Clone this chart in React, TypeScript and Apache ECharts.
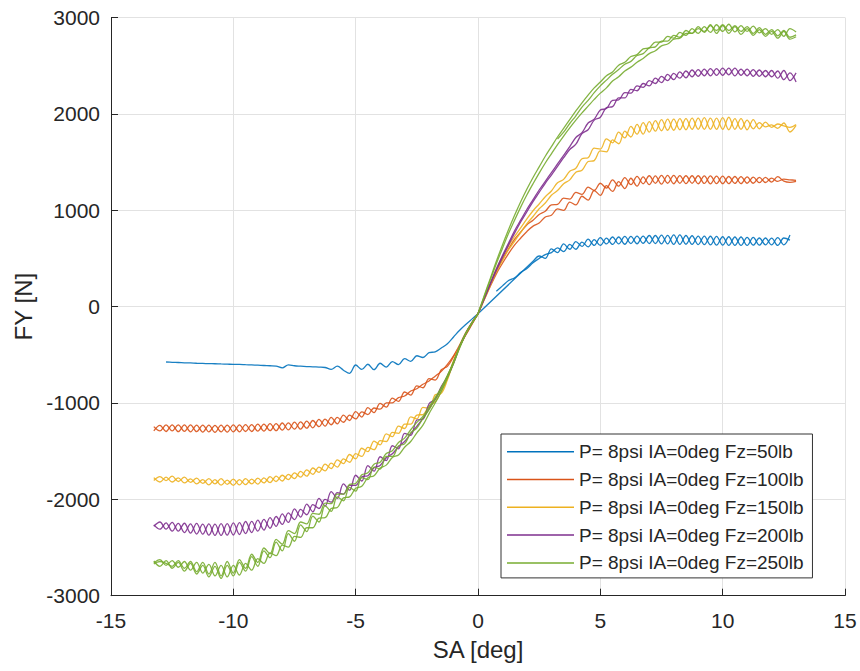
import React, { useEffect, useRef } from "react";
import * as echarts from "echarts";

// Slip angle sample positions (deg)
const SA_LEFT = [
  -13.25, -13, -12.75, -12.5, -12.25, -12, -11.75, -11.5, -11.25, -11, -10.75, -10.5,
  -10.25, -10, -9.75, -9.5, -9.25, -9, -8.75, -8.5, -8.25, -8, -7.75, -7.5,
  -7.25, -7, -6.75, -6.5, -6.25, -6, -5.75, -5.5, -5.25, -5, -4.75, -4.5,
  -4.25, -4, -3.75, -3.5, -3.25, -3, -2.75, -2.5, -2.25, -2, -1.75, -1.5,
  -1.25, -1, -0.75, -0.5, -0.25, 0,
];
const SA_RIGHT = [
  0, 0.25, 0.5, 0.75, 1, 1.25, 1.5, 1.75, 2, 2.25, 2.5, 2.75,
  3, 3.25, 3.5, 3.75, 4, 4.25, 4.5, 4.75, 5, 5.25, 5.5, 5.75,
  6, 6.25, 6.5, 6.75, 7, 7.25, 7.5, 7.75, 8, 8.25, 8.5, 8.75,
  9, 9.25, 9.5, 9.75, 10, 10.25, 10.5, 10.75, 11, 11.25, 11.5, 11.75,
  12, 12.25, 12.5, 12.75, 13,
];

// FY (N) — Fz = 50 lb
const FZ50_L = [
  null, null, -575, -578, -580, -583, -585, -588, -590, -592, -593, -595,
  -597, -600, -600, -603, -605, -608, -611, -614, -618, -635, -605, -614,
  -618, -622, -625, -628, -632, -652, -618, -660, -692, -606, -652, -598,
  -655, -588, -628, -570, -603, -540, -568, -510, -528, -478, -470, -430,
  -385, -315, -245, -185, -130, -75,
];
const FZ50_R1 = [
  null, null, null, 160, 215, 270, 300, 355, 395, 455, 500, 540,
  560, 610, 570, 645, 595, 670, 620, 695, 635, 710, 645, 722,
  647, 728, 652, 732, 655, 738, 650, 740, 645, 745, 647, 735,
  643, 732, 640, 728, 637, 725, 635, 722, 635, 718, 637, 712,
  640, 715, 640, 742, null,
];
const FZ50_R2 = [
  -75, null, null, null, null, null, null, null, null, 470, 525, 500,
  600, 560, 650, 595, 675, 625, 700, 635, 715, 650, 722, 650,
  728, 655, 732, 657, 738, 655, 742, 650, 745, 645, 738, 645,
  732, 643, 730, 637, 725, 635, 722, 635, 718, 637, 712, 640,
  710, 635, 712, 690, null,
];

// Fz = 100 lb
const FZ100_L1 = [
  -1245, -1290, -1228, -1290, -1228, -1295, -1228, -1298, -1230, -1300, -1232, -1300,
  -1230, -1300, -1228, -1296, -1224, -1292, -1220, -1288, -1214, -1282, -1206, -1272,
  -1196, -1262, -1182, -1246, -1168, -1226, -1150, -1200, -1126, -1166, -1092, -1120,
  -1052, -1064, -1000, -998, -945, -928, -876, -852, -806, -772, -722, -672,
  -600, -510, -400, -290, -180, -75,
];
const FZ100_L2 = [
  -1290, -1232, -1296, -1228, -1298, -1228, -1300, -1230, -1302, -1230, -1304, -1230,
  -1302, -1228, -1300, -1224, -1296, -1220, -1292, -1214, -1288, -1208, -1280, -1198,
  -1272, -1188, -1258, -1170, -1240, -1150, -1218, -1126, -1182, -1090, -1146, -1048,
  -1100, -1004, -1044, -950, -984, -886, -918, -822, -842, -748, -762, -655,
  -620, -520, -410, -295, -185, -75,
];
const FZ100_R1 = [
  -75, 80, 230, 370, 490, 600, 700, 775, 850, 895, 955, 990,
  1055, 1060, 1125, 1115, 1185, 1165, 1240, 1205, 1280, 1230, 1315, 1250,
  1338, 1265, 1352, 1275, 1358, 1280, 1362, 1280, 1362, 1280, 1358, 1280,
  1358, 1278, 1356, 1276, 1354, 1276, 1350, 1276, 1346, 1280, 1342, 1288,
  1334, 1300, 1322, 1316, 1310,
];
const FZ100_R2 = [
  -75, 70, 210, 340, 450, 550, 640, 712, 780, 835, 868, 930,
  948, 1015, 998, 1085, 1055, 1145, 1105, 1205, 1155, 1255, 1195, 1296,
  1225, 1332, 1250, 1346, 1265, 1356, 1270, 1362, 1275, 1360, 1276, 1358,
  1275, 1356, 1274, 1354, 1276, 1350, 1278, 1348, 1280, 1344, 1286, 1340,
  1292, 1348, 1302, 1290, 1300,
];

// Fz = 150 lb
const FZ150_L1 = [
  -1805, -1765, -1805, -1760, -1815, -1770, -1825, -1780, -1835, -1785, -1840, -1785,
  -1845, -1790, -1850, -1785, -1840, -1780, -1830, -1765, -1815, -1750, -1795, -1725,
  -1770, -1695, -1740, -1665, -1705, -1625, -1665, -1580, -1615, -1525, -1555, -1460,
  -1485, -1390, -1400, -1305, -1315, -1220, -1220, -1125, -1120, -1030, -990, -880,
  -745, -560, -400, -270, -165, -75,
];
const FZ150_L2 = [
  -1775, -1820, -1770, -1820, -1778, -1830, -1788, -1840, -1795, -1850, -1795, -1853,
  -1800, -1855, -1795, -1847, -1790, -1843, -1777, -1827, -1760, -1810, -1740, -1785,
  -1710, -1760, -1675, -1720, -1635, -1680, -1590, -1630, -1535, -1580, -1470, -1505,
  -1395, -1435, -1320, -1350, -1240, -1265, -1145, -1165, -1045, -1055, -915, -900,
  -760, -575, -410, -275, -170, -75,
];
const FZ150_R1 = [
  -75, 80, 240, 390, 520, 630, 730, 820, 910, 995, 1065, 1140,
  1200, 1285, 1320, 1405, 1435, 1535, 1545, 1645, 1635, 1740, 1700, 1810,
  1750, 1870, 1790, 1910, 1810, 1930, 1825, 1945, 1830, 1950, 1835, 1955,
  1840, 1960, 1840, 1955, 1840, 1965, 1840, 1950, 1835, 1940, 1845, 1915,
  1860, 1895, 1875, 1860, 1890,
];
const FZ150_R2 = [
  -75, 70, 220, 360, 480, 590, 680, 770, 860, 935, 1015, 1075,
  1155, 1205, 1275, 1315, 1395, 1415, 1505, 1515, 1615, 1605, 1730, 1690,
  1820, 1760, 1890, 1790, 1920, 1820, 1940, 1830, 1945, 1835, 1950, 1840,
  1955, 1840, 1955, 1840, 1960, 1835, 1950, 1840, 1935, 1845, 1910, 1865,
  1885, 1850, 1905, 1812, 1880,
];

// Fz = 200 lb
const FZ200_L1 = [
  -2265, -2310, -2245, -2330, -2250, -2345, -2255, -2360, -2258, -2372, -2258, -2375,
  -2252, -2370, -2242, -2355, -2228, -2330, -2208, -2300, -2178, -2260, -2140, -2210,
  -2105, -2160, -2055, -2095, -2000, -2030, -1930, -1945, -1855, -1855, -1765, -1755,
  -1672, -1648, -1568, -1528, -1455, -1400, -1318, -1242, -1160, -1060, -960, -850,
  -720, -580, -410, -275, -165, -75,
];
const FZ200_L2 = [
  -2280, -2235, -2310, -2240, -2330, -2248, -2350, -2250, -2362, -2255, -2375, -2252,
  -2372, -2245, -2365, -2230, -2345, -2215, -2320, -2190, -2280, -2150, -2240, -2100,
  -2185, -2050, -2130, -1990, -2070, -1920, -1990, -1840, -1905, -1750, -1810, -1650,
  -1708, -1558, -1598, -1444, -1476, -1315, -1336, -1176, -1168, -1008, -962, -830,
  -730, -590, -420, -280, -170, -75,
];
const FZ200_R1 = [
  -75, 85, 240, 390, 530, 660, 790, 900, 1010, 1110, 1210, 1300,
  1390, 1480, 1570, 1660, 1755, 1805, 1905, 1945, 2040, 2055, 2140, 2145,
  2220, 2215, 2290, 2275, 2345, 2315, 2390, 2345, 2420, 2370, 2445, 2385,
  2460, 2395, 2470, 2400, 2475, 2405, 2475, 2400, 2465, 2390, 2455, 2385,
  2450, 2370, 2450, 2345, 2425,
];
const FZ200_R2 = [
  -75, 80, 230, 375, 510, 640, 765, 880, 985, 1090, 1185, 1280,
  1365, 1455, 1545, 1630, 1685, 1795, 1835, 1935, 1965, 2065, 2075, 2165,
  2165, 2255, 2240, 2315, 2290, 2370, 2325, 2410, 2355, 2435, 2375, 2455,
  2390, 2465, 2395, 2470, 2400, 2475, 2395, 2465, 2395, 2460, 2390, 2450,
  2385, 2445, 2355, 2425, 2330,
];

// Fz = 250 lb
const FZ250_L1 = [
  -2659, -2625, -2685, -2635, -2705, -2645, -2735, -2655, -2765, -2675, -2795, -2685,
  -2805, -2685, -2785, -2665, -2735, -2615, -2665, -2555, -2585, -2475, -2495, -2385,
  -2395, -2295, -2295, -2195, -2190, -2095, -2085, -1985, -1975, -1885, -1865, -1775,
  -1755, -1675, -1645, -1565, -1540, -1460, -1400, -1310, -1230, -1110, -1000, -880,
  -740, -590, -430, -285, -175, -75,
];
const FZ250_L2 = [
  -2640, -2695, -2635, -2715, -2655, -2745, -2665, -2775, -2685, -2805, -2695, -2820,
  -2685, -2795, -2655, -2745, -2595, -2695, -2535, -2605, -2445, -2535, -2355, -2435,
  -2265, -2335, -2175, -2235, -2065, -2125, -1975, -2015, -1875, -1915, -1775, -1795,
  -1665, -1685, -1555, -1555, -1445, -1425, -1310, -1260, -1160, -1070, -960, -850,
  -720, -580, -420, -280, -170, -75,
];
const FZ250_L3 = [
  -2670, -2645, -2665, -2695, -2635, -2715, -2645, -2750, -2655, -2775, -2655, -2795,
  -2645, -2765, -2625, -2715, -2570, -2655, -2505, -2565, -2415, -2465, -2325, -2355,
  -2235, -2255, -2145, -2155, -2040, -2045, -1945, -1945, -1845, -1835, -1745, -1725,
  -1635, -1615, -1525, -1495, -1410, -1365, -1278, -1202, -1140, -1040, -945, -840,
  -715, -575, -415, -278, -168, -75,
];
const FZ250_R1 = [
  -75, 110, 290, 470, 640, 800, 950, 1090, 1220, 1340, 1450, 1560,
  1660, 1760, 1850, 1940, 2030, 2115, 2195, 2270, 2330, 2395, 2435, 2505,
  2535, 2595, 2615, 2675, 2685, 2745, 2745, 2805, 2785, 2845, 2815, 2885,
  2835, 2905, 2845, 2925, 2855, 2930, 2850, 2915, 2855, 2910, 2840, 2885,
  2825, 2875, 2805, 2885, 2850,
];
const FZ250_R2 = [
  -75, 100, 275, 445, 605, 760, 900, 1035, 1160, 1275, 1385, 1490,
  1585, 1680, 1770, 1855, 1935, 2010, 2080, 2150, 2215, 2270, 2340, 2385,
  2445, 2485, 2535, 2575, 2625, 2655, 2705, 2725, 2775, 2785, 2835, 2835,
  2885, 2855, 2915, 2865, 2925, 2865, 2915, 2855, 2905, 2835, 2895, 2825,
  2875, 2810, 2865, 2795, 2820,
];
const FZ250_R3 = [
  null, null, null, null, null, null, null, null, null, null, null, null,
  null, 1740, 1810, 1900, 1980, 2070, 2140, 2220, 2290, 2350, 2410, 2460,
  2515, 2545, 2605, 2625, 2685, 2695, 2755, 2755, 2815, 2795, 2865, 2835,
  2905, 2845, 2925, 2835, 2915, 2835, 2905, 2825, 2885, 2815, 2875, 2805,
  2855, 2785, 2855, 2775, 2800,
];

const NAMES = [
  "P= 8psi IA=0deg Fz=50lb",
  "P= 8psi IA=0deg Fz=100lb",
  "P= 8psi IA=0deg Fz=150lb",
  "P= 8psi IA=0deg Fz=200lb",
  "P= 8psi IA=0deg Fz=250lb",
];
const COLORS = ["#0072BD", "#D95319", "#EDB120", "#7E2F8E", "#77AC30"];
const X_TICKS_MIN = -15, X_TICKS_MAX = 15, X_STEP = 5;
const Y_TICKS_MIN = -3000, Y_TICKS_MAX = 3000, Y_STEP = 1000;

type Pass = { xs: number[]; ys: (number | null)[] };
const GROUPS: Pass[][] = [
  [{ xs: SA_LEFT, ys: FZ50_L }, { xs: SA_RIGHT, ys: FZ50_R1 }, { xs: SA_RIGHT, ys: FZ50_R2 }],
  [{ xs: SA_LEFT, ys: FZ100_L1 }, { xs: SA_LEFT, ys: FZ100_L2 }, { xs: SA_RIGHT, ys: FZ100_R1 }, { xs: SA_RIGHT, ys: FZ100_R2 }],
  [{ xs: SA_LEFT, ys: FZ150_L1 }, { xs: SA_LEFT, ys: FZ150_L2 }, { xs: SA_RIGHT, ys: FZ150_R1 }, { xs: SA_RIGHT, ys: FZ150_R2 }],
  [{ xs: SA_LEFT, ys: FZ200_L1 }, { xs: SA_LEFT, ys: FZ200_L2 }, { xs: SA_RIGHT, ys: FZ200_R1 }, { xs: SA_RIGHT, ys: FZ200_R2 }],
  [{ xs: SA_LEFT, ys: FZ250_L1 }, { xs: SA_LEFT, ys: FZ250_L2 }, { xs: SA_LEFT, ys: FZ250_L3 }, { xs: SA_RIGHT, ys: FZ250_R1 }, { xs: SA_RIGHT, ys: FZ250_R2 }, { xs: SA_RIGHT, ys: FZ250_R3 }],
];

function pairs(p: Pass): number[][] {
  const out: number[][] = [];
  p.xs.forEach((x, i) => {
    const y = p.ys[i];
    if (y !== null && y !== undefined) out.push([x, y]);
  });
  return out;
}

const FONT = "'Liberation Sans', Arial, Helvetica, sans-serif";
const TXT = "#262626";

export default function App() {
  const ref = useRef<HTMLDivElement>(null);
  useEffect(() => {
    if (!ref.current) return;
    const chart = echarts.init(ref.current, undefined, { renderer: "svg" });
    const series: any[] = [];
    GROUPS.forEach((passes, gi) => {
      passes.forEach((p) => {
        series.push({
          name: NAMES[gi],
          type: "line",
          data: pairs(p),
          showSymbol: false,
          symbol: "none",
          smooth: 0.35,
          lineStyle: { color: COLORS[gi], width: 1.3, opacity: 0.9 },
          itemStyle: { color: COLORS[gi] },
          emphasis: { disabled: true },
        });
      });
    });
    chart.setOption({
      animation: false,
      backgroundColor: "#ffffff",
      textStyle: { fontFamily: FONT },
      grid: { left: 111, right: 15, top: 17.5, bottom: 75.3, containLabel: false },
      xAxis: {
        type: "value",
        min: X_TICKS_MIN,
        max: X_TICKS_MAX,
        interval: X_STEP,
        name: "SA [deg]",
        nameLocation: "middle",
        nameGap: 42,
        nameTextStyle: { fontSize: 24, color: TXT, fontFamily: FONT },
        axisLine: { show: true, onZero: false, lineStyle: { color: TXT, width: 1 } },
        axisTick: { show: true, inside: true, length: 7, lineStyle: { color: TXT } },
        axisLabel: { fontSize: 21, color: TXT, margin: 14, fontFamily: FONT, formatter: (v: number) => String(v) },
        splitLine: { show: true, lineStyle: { color: "#e2e2e2", width: 1 } },
      },
      yAxis: {
        type: "value",
        min: Y_TICKS_MIN,
        max: Y_TICKS_MAX,
        interval: Y_STEP,
        name: "FY [N]",
        nameLocation: "middle",
        nameGap: 76,
        nameTextStyle: { fontSize: 24, color: TXT, fontFamily: FONT },
        axisLine: { show: true, onZero: false, lineStyle: { color: TXT, width: 1 } },
        axisTick: { show: true, inside: true, length: 7, lineStyle: { color: TXT } },
        axisLabel: { fontSize: 21, color: TXT, margin: 11, fontFamily: FONT, formatter: (v: number) => String(v) },
        splitLine: { show: true, lineStyle: { color: "#e2e2e2", width: 1 } },
      },
      legend: {
        data: NAMES.map((n) => ({ name: n, icon: "rect" })),
        orient: "vertical",
        left: 501,
        top: 434,
        itemWidth: 67,
        itemHeight: 1.5,
        itemGap: 7.8,
        padding: [7.7, 9, 5, 6],
        borderColor: "#333333",
        borderWidth: 1,
        borderRadius: 0,
        backgroundColor: "#ffffff",
        selectedMode: false,
        itemStyle: { borderWidth: 0 },
        textStyle: { fontSize: 19, color: TXT, fontFamily: FONT, lineHeight: 20 },
      },
      series,
    });
    return () => chart.dispose();
  }, []);
  return (
    <div
      ref={ref}
      style={{ position: "fixed", left: 0, top: 0, width: 860, height: 671 }}
    />
  );
}
